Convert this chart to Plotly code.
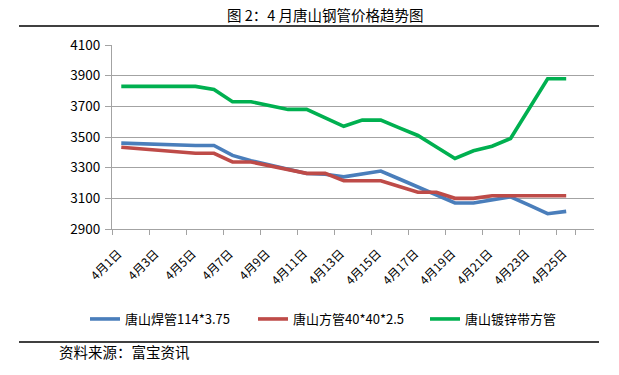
import plotly.graph_objects as go

# ---- data ----
dates = [f"4月{d}日" for d in range(1, 27)]
tick_labels = dates[::2]

names = ["唐山焊管114*3.75", "唐山方管40*40*2.5", "唐山镀锌带方管"]

weld_pipe = [3460, 3455, 3450, 3448, 3445, 3445, 3380, 3345, 3320, 3290,
             3262, 3257, 3240, 3260, 3278, 3226, 3175, 3122, 3070, 3070,
             3090, 3110, 3055, 3000, 3015, None]
square_pipe = [3433, 3423, 3413, 3404, 3394, 3394, 3337, 3337, 3312, 3288,
               3263, 3263, 3215, 3215, 3215, 3177, 3140, 3140, 3100, 3100,
               3117, 3117, 3117, 3117, 3117, None]
galv_pipe = [3830, 3830, 3830, 3830, 3830, 3810, 3730, 3730, 3705, 3680,
             3680, 3625, 3570, 3610, 3610, 3560, 3510, 3435, 3360, 3410,
             3440, 3490, 3685, 3880, 3880, None]

colors = ["#4A7EBB", "#BE4B48", "#00B050"]
series = [weld_pipe, square_pipe, galv_pipe]
legend_ids = ["legend", "legend2", "legend3"]

W, H = 619, 375
L, T = 112, 45
R = W - 594
B = H - 229
pw, ph = W - L - R, H - T - B

def px_x(x):  # x in window pixels -> paper
    return (x - L) / pw

def px_y(y):  # y in window pixels -> paper
    return (H - B - y) / ph

fig = go.Figure()
for name, vals, col, lg in zip(names, series, colors, legend_ids):
    fig.add_trace(go.Scatter(
        x=dates, y=vals, name=name, mode="lines",
        line=dict(color=col, width=3.6), legend=lg,
    ))

cjk = "Noto Sans CJK SC"
grid = "#A3A3A3"

leg_common = dict(orientation="h", yanchor="middle", xanchor="left",
                  bgcolor="rgba(0,0,0,0)", font=dict(family=cjk, size=13, color="#000000"),
                  itemwidth=30, tracegroupgap=0)
fig.update_layout(
    width=W, height=H,
    margin=dict(l=L, r=R, t=T, b=B),
    paper_bgcolor="white", plot_bgcolor="white",
    showlegend=True,
    legend=dict(x=px_x(85), y=px_y(319), **leg_common),
    legend2=dict(x=px_x(253), y=px_y(319), **leg_common),
    legend3=dict(x=px_x(425), y=px_y(319), **leg_common),
    xaxis=dict(
        type="category", categoryorder="array", categoryarray=dates,
        range=[-0.5, len(dates) - 0.5],
        tickmode="array", tickvals=tick_labels, ticktext=tick_labels,
        tickson="boundaries", ticks="outside", ticklen=5, tickcolor=grid,
        tickangle=-45, tickfont=dict(family=cjk, size=12, color="#000000"),
        ticklabelshift=-3, ticklabelstandoff=12,
        showgrid=False, showline=True, linecolor=grid, linewidth=1,
        zeroline=False, fixedrange=True,
    ),
    yaxis=dict(
        range=[2900, 4100], dtick=200, tick0=2900,
        ticks="outside", ticklen=6, tickcolor=grid,
        tickfont=dict(family=cjk, size=13.5, color="#000000"),
        ticklabelstandoff=2,
        showgrid=True, gridcolor=grid, gridwidth=1,
        showline=True, linecolor=grid, linewidth=1,
        zeroline=False, fixedrange=True,
    ),
)

fig.add_annotation(
    text="图 2：4 月唐山钢管价格趋势图", xref="paper", yref="paper",
    x=px_x(325), y=px_y(15), xanchor="center", yanchor="middle",
    showarrow=False, font=dict(family=cjk, size=14.5, color="#000000"),
)
fig.add_annotation(
    text="资料来源：富宝资讯", xref="paper", yref="paper",
    x=px_x(57), y=px_y(351), xanchor="left", yanchor="middle",
    showarrow=False, font=dict(family=cjk, size=14.5, color="#000000"),
)
fig.add_shape(type="line", xref="paper", yref="paper",
              x0=px_x(19), x1=px_x(599), y0=px_y(26), y1=px_y(26),
              line=dict(color="#000000", width=1.3))
fig.add_shape(type="line", xref="paper", yref="paper",
              x0=px_x(19), x1=px_x(599), y0=px_y(342), y1=px_y(342),
              line=dict(color="#000000", width=1.3))

fig.write_html("out.html",
               config={"displayModeBar": False, "staticPlot": True},
               post_script="document.body.style.margin='0';document.body.style.overflow='hidden';")
